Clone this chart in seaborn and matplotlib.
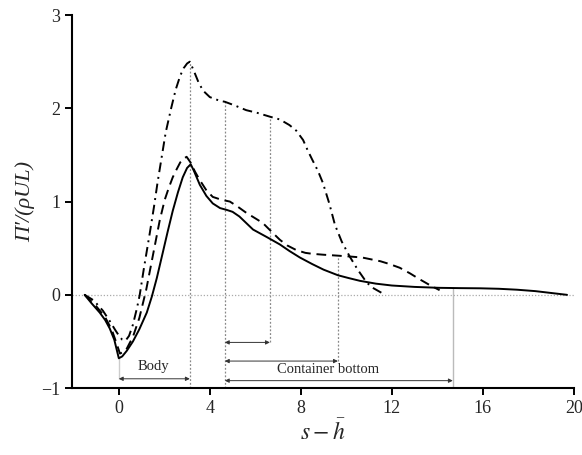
import numpy as np
import pandas as pd
import matplotlib
matplotlib.use("Agg")
import matplotlib.pyplot as plt
import seaborn as sns

# ---- data ----
solid_x = [-1.5, -1.2, -0.84, -0.6, -0.4, -0.2, -0.1, 0.0, 0.15, 0.35, 0.62, 0.9, 1.23, 1.45,
           1.67, 1.93, 2.15, 2.37, 2.6, 2.81, 3.0, 3.16, 3.3, 3.56, 3.85, 4.13, 4.45, 4.75, 5.0,
           5.3, 5.6, 5.9, 6.5, 7.08, 7.5, 7.96, 8.5, 9.0, 9.63, 10.1, 10.6, 11.3, 12.0, 13.0,
           14.1, 15.0, 15.9, 16.7, 17.5, 18.3, 19.0, 19.7]
solid_y = [0.0, -0.09, -0.19, -0.27, -0.36, -0.48, -0.58, -0.68, -0.66, -0.6, -0.5, -0.37, -0.19,
           -0.02, 0.18, 0.45, 0.68, 0.9, 1.1, 1.26, 1.36, 1.40, 1.33, 1.18, 1.06, 0.98, 0.93, 0.91,
           0.89, 0.84, 0.77, 0.70, 0.62, 0.54, 0.47, 0.40, 0.33, 0.27, 0.21, 0.18, 0.15, 0.12, 0.10,
           0.085, 0.075, 0.072, 0.07, 0.065, 0.055, 0.04, 0.02, 0.0]

dashed_x = [-1.5, -1.0, -0.6, -0.3, -0.1, 0.05, 0.3, 0.62, 0.9, 1.2, 1.4, 1.6, 1.8, 2.02, 2.2,
            2.37, 2.55, 2.7, 2.85, 2.98, 3.15, 3.35, 3.56, 3.85, 4.13, 4.5, 4.88, 5.2, 5.6, 6.0,
            6.33, 6.7, 7.08, 7.4, 7.8, 8.2, 8.5, 9.0, 9.63, 10.2, 10.7, 11.1, 11.5, 11.9, 12.35,
            12.8, 13.2, 13.7, 14.1]
dashed_y = [0.0, -0.12, -0.24, -0.38, -0.52, -0.63, -0.6, -0.45, -0.25, 0.05, 0.3, 0.55, 0.8,
            1.02, 1.15, 1.26, 1.35, 1.42, 1.46, 1.48, 1.42, 1.32, 1.23, 1.12, 1.05, 1.02, 1.0, 0.95,
            0.88, 0.82, 0.77, 0.68, 0.59, 0.53, 0.48, 0.45, 0.44, 0.43, 0.42, 0.41, 0.40, 0.38,
            0.36, 0.33, 0.29, 0.23, 0.17, 0.10, 0.05]

dashdot_x = [-1.5, -1.1, -0.7, -0.4, -0.15, 0.04, 0.15, 0.3, 0.45, 0.62, 0.8, 0.92, 1.1, 1.36,
             1.55, 1.7, 1.9, 2.06, 2.3, 2.5, 2.7, 2.85, 3.0, 3.12, 3.3, 3.5, 3.7, 4.0, 4.44, 4.66,
             5.1, 5.6, 6.1, 6.64, 7.08, 7.5, 7.8, 8.1, 8.3, 8.5, 8.75, 8.97, 9.25, 9.5, 9.8, 10.15,
             10.5, 10.9, 11.2, 11.56]
dashdot_y = [0.0, -0.06, -0.17, -0.28, -0.38, -0.45, -0.48, -0.49, -0.44, -0.32, -0.14, 0.0, 0.28,
             0.66, 0.95, 1.2, 1.5, 1.74, 2.0, 2.2, 2.35, 2.43, 2.48, 2.5, 2.4, 2.28, 2.19, 2.12,
             2.08, 2.07, 2.03, 1.98, 1.95, 1.91, 1.88, 1.82, 1.76, 1.66, 1.55, 1.45, 1.33, 1.2,
             0.98, 0.75, 0.57, 0.41, 0.27, 0.13, 0.07, 0.02]

# reference vertical guides: x, lower end, upper end
guide_x = [3.12, 4.66, 6.64, 9.63]
guide_lo = [-1.0, -1.0, -0.51, -0.71]
guide_hi = [2.5, 2.07, 1.91, 0.42]
bottom_x, bottom_lo, bottom_hi = 14.68, -1.0, 0.07
min_x, min_lo, min_hi = 0.0, -0.90, -0.68

# span arrows: start, end, height
arrow_start = [0.0, 4.66, 4.66, 4.66]
arrow_end = [3.12, 6.64, 9.63, 14.68]
arrow_y = [-0.90, -0.51, -0.71, -0.92]

labels = ["Body", "Container bottom"]
label_x = [1.5, 9.2]
label_y = [-0.77, -0.80]

x_ticks = [0, 4, 8, 12, 16, 20]
y_ticks = [-1, 0, 1, 2, 3]

# ---- plotting ----
sns.set_style("ticks")
plt.rcParams["font.family"] = ["Liberation Serif", "DejaVu Serif"]
plt.rcParams["mathtext.fontset"] = "stix"

fig = plt.figure(figsize=(5.82, 4.55), dpi=100)
ax = fig.add_axes([0.124, 0.147, 0.862, 0.820])

ax.axhline(0, color="#aaaaaa", lw=0.9, ls=(0, (1, 1.5)), zorder=1)

ax.vlines(guide_x, guide_lo, guide_hi, colors="#888888", lw=0.9, linestyles=(0, (1.5, 1.5)), zorder=1)
ax.vlines([bottom_x], [bottom_lo], [bottom_hi], colors="#bbbbbb", lw=1.0, zorder=1)
ax.vlines([min_x], [min_lo], [min_hi], colors="#cccccc", lw=1.0, zorder=1)

df_s = pd.DataFrame({"x": solid_x, "y": solid_y})
df_d = pd.DataFrame({"x": dashed_x, "y": dashed_y})
df_dd = pd.DataFrame({"x": dashdot_x, "y": dashdot_y})

sns.lineplot(data=df_s, x="x", y="y", ax=ax, color="black", lw=1.4, sort=False, estimator=None, zorder=3)
sns.lineplot(data=df_d, x="x", y="y", ax=ax, color="black", lw=1.4, sort=False, estimator=None, zorder=3)
ax.lines[-1].set_dashes((5, 3))
sns.lineplot(data=df_dd, x="x", y="y", ax=ax, color="black", lw=1.4, sort=False, estimator=None, zorder=3)
ax.lines[-1].set_dashes((5, 2.5, 1, 2.5))

for xs, xe, yy in zip(arrow_start, arrow_end, arrow_y):
    ax.annotate("", xy=(xe, yy), xytext=(xs, yy),
                arrowprops=dict(arrowstyle="<|-|>", color="#333333", lw=0.7,
                                mutation_scale=6, shrinkA=0, shrinkB=0))

for t, lx, ly in zip(labels, label_x, label_y):
    ax.text(lx, ly, t, ha="center", va="center", fontsize=10.5)

ax.set_xlim(-2.05, 20)
ax.set_ylim(-1, 3)
ax.set_xticks(x_ticks)
ax.set_yticks(y_ticks)
ax.set_yticklabels(["\u22121", "0", "1", "2", "3"])
ax.tick_params(axis="both", labelsize=13, width=1.4, length=5, direction="out", color="black")
for s in ["left", "bottom"]:
    ax.spines[s].set_linewidth(1.5)
    ax.spines[s].set_color("black")
sns.despine(ax=ax)

ax.set_xlabel(r"$s-\bar{h}$", fontsize=17, labelpad=2)
ax.set_ylabel("\u03a0\u2032/(\u03c1UL)", fontsize=16, fontstyle="italic", labelpad=4)

fig.savefig("out.png", dpi=100)
